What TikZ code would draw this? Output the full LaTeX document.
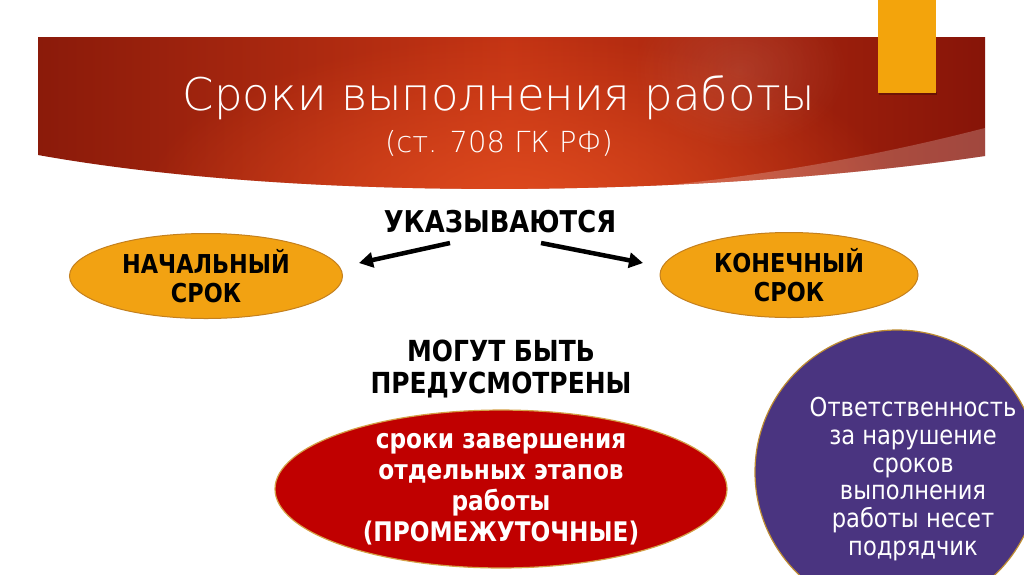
\documentclass[tikz,border=0pt]{standalone}
\usepackage{fontspec}
\setmainfont{DejaVu Sans}
\newfontfamily\lightf{DejaVu Sans ExtraLight}
\newfontfamily\regf{DejaVu Sans}[FakeStretch=0.87]
\newfontfamily\boldf{DejaVu Sans Bold}[FakeStretch=0.86]
\usetikzlibrary{shapes.geometric,arrows.meta,fadings}
\tikzfading[name=glow, inner color=transparent!0, outer color=transparent!100]
\definecolor{bannerL}{RGB}{138,26,10}
\definecolor{bannerM}{RGB}{196,52,20}
\definecolor{bannerR}{RGB}{134,20,8}
\definecolor{bannerG}{RGB}{222,74,30}
\definecolor{orangeR}{RGB}{243,164,12}
\definecolor{ovalfill}{RGB}{242,162,18}
\definecolor{ovaledge}{RGB}{196,128,30}
\definecolor{redfill}{RGB}{192,0,0}
\definecolor{goldedge}{RGB}{212,160,70}
\definecolor{purplefill}{RGB}{74,52,128}
\definecolor{purpleedge}{RGB}{190,140,50}
\tikzset{
  oval/.style={ellipse, inner sep=0pt, fill=ovalfill, draw=ovaledge, line width=1pt,
    align=center, font=\boldf\fontsize{26}{29}\selectfont, text=black},
  redoval/.style={ellipse, inner sep=0pt, fill=redfill, draw=goldedge, line width=1.2pt,
    align=center, font=\boldf\fontsize{27}{31}\selectfont, text=white},
  headtext/.style={align=center, font=\boldf\fontsize{29}{32}\selectfont, text=black, inner sep=0pt},
  arr/.style={line width=4.5pt, -{Triangle[length=14pt,width=15pt]}},
}
\begin{document}
\begin{tikzpicture}[x=1pt,y=-1pt]
\useasboundingbox (0,0) rectangle (1024,574);
\fill[white] (0,0) rectangle (1024,574);
% banner
\begin{scope}
\clip (38,37) -- (985,37) -- (985,156) .. controls (700,198) and (300,202) .. (38,155) -- cycle;
\shade[left color=bannerL, right color=bannerR, middle color=bannerM] (30,30) rectangle (990,210);
\fill[bannerG, path fading=glow] (520,205) ellipse [x radius=380, y radius=170];
\fill[white, opacity=0.10, path fading=glow] (740,70) ellipse [x radius=110, y radius=80];
\fill[white, opacity=0.22] (985,128) .. controls (880,155) and (760,178) .. (600,192) -- (600,230) -- (1000,230) -- cycle;
\end{scope}
% orange tab
\fill[black, opacity=0.25] (879,92) rectangle (937,95);
\fill[orangeR] (878,0) rectangle (936,93);
% title
\node[anchor=base, inner sep=0pt, text=white, font=\lightf\fontsize{45}{50}\selectfont] (t1) at (499,110) {Сроки выполнения работы};
\node[anchor=base, inner sep=0pt, text=white, font=\lightf\fontsize{29}{32}\selectfont] (t2) at (499,152) {(ст. 708 ГК РФ)};
% headings
\node[headtext, anchor=base, font=\boldf\fontsize{30}{32}\selectfont] (ukaz) at (500,232) {УКАЗЫВАЮТСЯ};
\node[oval, minimum width=273pt, minimum height=85pt] (start) at (206,276) {НАЧАЛЬНЫЙ\\СРОК};
\node[oval, minimum width=258pt, minimum height=85pt] (finish) at (789,275) {КОНЕЧНЫЙ\\СРОК};
\coordinate (lA) at (450,243);
\coordinate (lB) at (359,263);
\coordinate (rA) at (541,243);
\coordinate (rB) at (643,263);
\draw[arr] (lA) -- (lB);
\draw[arr] (rA) -- (rB);
\node[headtext, anchor=base] (mog) at (501,361) {МОГУТ БЫТЬ};
\node[headtext, anchor=base] (pred) at (501,393) {ПРЕДУСМОТРЕНЫ};
\node[redoval, minimum width=452pt, minimum height=148pt] (mid) at (501,489) {сроки завершения\\отдельных этапов\\работы\\(ПРОМЕЖУТОЧНЫЕ)};
% purple circle
\fill[purplefill, draw=purpleedge, line width=1.2pt] (897,472) circle [radius=142];
\node[align=center, inner sep=0pt, text=white, font=\regf\fontsize{26}{27.8}\selectfont] (resp) at (913,479) {Ответственность\\за нарушение\\сроков\\выполнения\\работы несет\\подрядчик};
\end{tikzpicture}
\end{document}
